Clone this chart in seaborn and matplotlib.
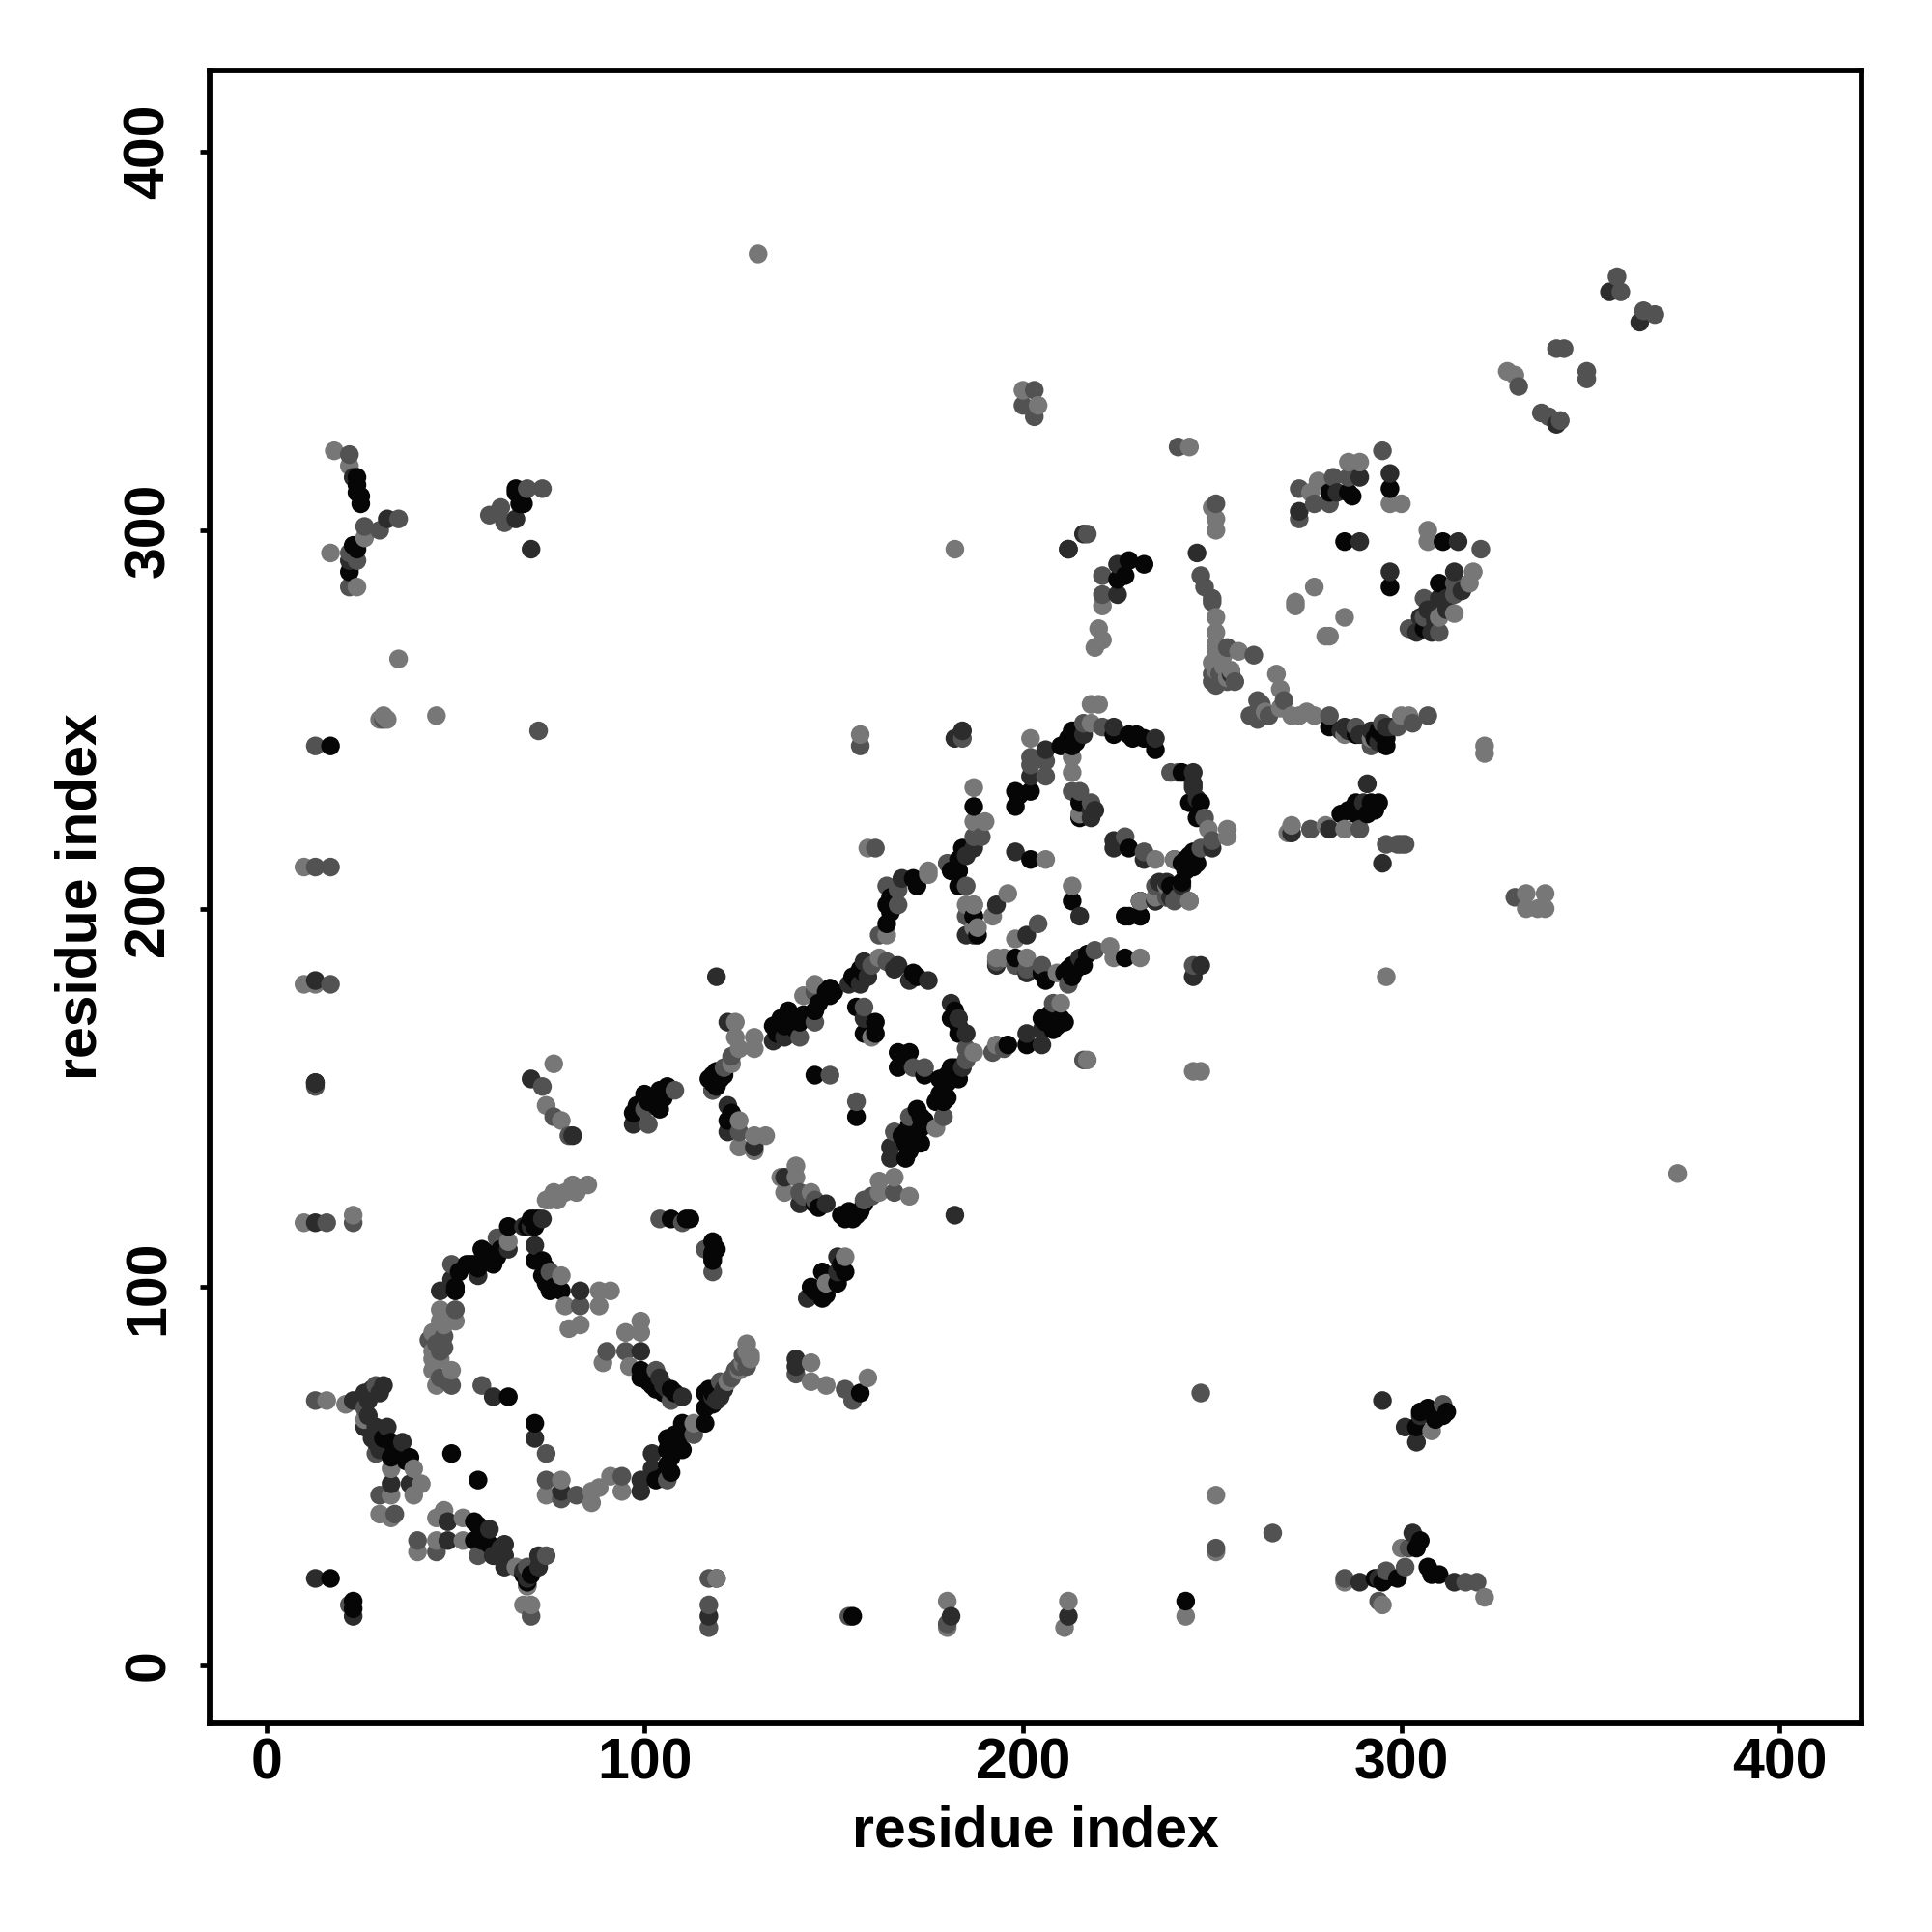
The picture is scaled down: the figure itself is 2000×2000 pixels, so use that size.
"""Contact map: residue index vs residue index, dots shaded by four grey levels."""
import pandas as pd
import matplotlib
matplotlib.use('Agg')
import matplotlib.pyplot as plt
import seaborn as sns

# (residue i, residue j), one list per grey level
black_pairs = [
    (17,23),(23,17),(23,15),(17,243),(50,99),(53,106),(56,105),(57,110),(60,106),(64,116),(70,118),
    (71,107),(73,107),(73,103),(75,99),(78,99),(99,78),(99,76),(102,74),(107,73),(116,72),(118,72),(116,68),
    (33,59),(33,55),(38,55),(49,56),(56,49),(55,38),(55,33),(59,32),(69,23),(64,71),(71,64),
    (103,49),(106,53),(106,57),(110,57),(106,60),(109,60),(110,64),(116,64),
    (107,118),(111,118),(118,112),(118,107),(119,157),(121,156),(117,155),(119,153),(122,144),
    (145,122),(152,119),(155,118),(157,120),(158,122),(134,169),(137,169),(138,173),(141,170),(145,173),
    (149,179),(149,177),(155,182),(157,184),(171,183),(156,174),(161,170),(158,167),(161,167),(183,167),(181,171),
    (145,156),(156,145),(167,162),(170,162),(167,158),(174,156),(182,158),(180,156),(179,153),(181,156),
    (179,149),(177,149),(173,145),(173,142),(173,138),(169,141),(169,138),(169,134),
    (153,104),(147,104),(151,101),(144,100),(147,97),(157,72),(171,208),(164,201),(164,196),(183,210),(181,210),
    (183,206),(187,198),(188,193),(213,202),(198,187),(205,183),(211,183),(213,182),(213,185),(216,185),
    (227,198),(231,198),(231,202),(242,207),(227,187),(205,171),(210,171),(208,168),(201,164),(196,164),
    (187,227),(184,216),(183,213),(183,210),(187,198),(198,231),(198,227),(202,231),(210,243),(212,245),(213,243),
    (224,246),(228,246),(232,245),(235,242),(215,228),(215,224),(242,236),(247,228),(244,228),(246,224),
    (244,214),(246,212),(242,212),(243,210),(228,216),(202,213),(239,206),(231,202),(228,198),(231,198),
    (284,225),(288,228),(288,225),(291,225),(294,228),(281,248),(288,246),(293,245),(295,246),
    (281,310),(286,310),(297,311),(285,297),(311,297),(297,285),(310,286),(306,274),
    (24,314),(24,310),(25,307),(23,296),(24,296),(22,289),(68,307),(66,311),(13,154),(212,295),
    (225,287),(228,292),(232,291),(227,288),(296,23),(295,22),(304,31),(308,24),(310,24),(307,26),
    (243,17),(155,13),(304,63),(307,68),(311,66),(97,146),(100,151),(104,152),(104,147),(102,150),
    (71,116),(243,212),(118,109),
    # denser runs along the strands
    (24,295),(25,309),(24,312),(66,310),(67,307),(71,118),(72,118),(69,116),(50,100),(51,104),(54,106),(55,106),
    (58,108),(59,109),(61,108),(62,110),(74,105),(74,101),(76,100),(100,77),(101,75),(103,73),(105,72),(108,72),
    (117,70),(118,69),(117,73),(31,60),(34,57),(36,56),(37,54),(58,34),(57,33),(56,37),(68,24),(70,24),(69,22),
    (105,50),(107,51),(107,55),(108,58),(111,62),(108,61),(112,118),(119,110),(118,108),(120,155),(118,156),(118,154),
    (123,146),(146,121),(153,118),(154,120),(156,119),(135,167),(136,171),(139,171),(140,168),(142,172),(144,171),
    (146,175),(148,178),(150,178),(156,181),(158,183),(172,182),(183,169),(182,173),(168,160),(169,160),(181,158),
    (183,155),(178,155),(180,154),(178,151),(180,150),(172,147),(174,144),(172,140),(170,143),(168,140),(170,136),
    (152,106),(145,99),(148,98),(172,206),(165,199),(165,203),(206,181),(212,184),(214,184),(217,188),(206,170),
    (207,172),(209,169),(211,170),(199,230),(214,244),(213,247),(229,245),(230,246),(243,213),(245,211),(245,215),
    (286,226),(290,226),(292,228),(293,226),(294,247),(296,245),(296,243),(287,309),(299,23),(293,23),(305,33),
    (305,67),(309,65),(312,67),(98,148),(101,149),(103,148),(105,150),(106,153),
]
dark_pairs = [
    (13,117),(13,23),(23,13),(46,99),(49,102),(56,103),(64,110),(71,111),(83,99),(99,83),(104,76),(110,71),(119,70),
    (70,116),(73,118),(68,116),(23,70),(26,72),(26,63),(29,63),(32,63),(29,59),(36,59),(33,48),(38,48),
    (48,38),(59,36),(48,33),(60,29),(63,32),(63,29),(63,26),(69,23),(72,26),(72,29),(68,25),
    (117,13),(60,71),(71,60),(78,46),(99,49),(99,46),(102,56),(102,52),(119,182),(122,170),(118,152),
    (122,148),(122,141),(129,137),(137,129),(141,122),(148,122),(182,119),(134,165),(137,166),(154,180),(159,182),
    (167,185),(170,181),(175,181),(158,171),(181,175),(183,171),(185,167),(184,158),(165,137),(165,134),
    (140,81),(140,79),(151,108),(151,104),(143,97),(168,208),(185,193),(193,201),(215,198),(201,193),
    (236,207),(235,202),(193,185),(215,187),(205,168),(201,167),(205,164),(247,185),(245,182),(182,245),(184,247),
    (187,216),(185,214),(187,193),(206,242),(202,235),(216,246),(224,248),(235,245),(218,224),(245,236),
    (245,232),(250,216),(224,218),(224,216),(232,213),(242,206),(235,202),(198,215),(295,212),(291,233),(290,228),
    (271,220),(281,221),(285,248),(295,244),(297,248),(255,262),(273,305),(283,310),(289,314),(297,315),(289,297),
    (315,297),(297,289),(314,289),(310,282),(304,273),(308,273),(23,314),(22,292),(32,303),(66,303),(70,295),
    (13,154),(13,181),(216,299),(225,283),(225,291),(212,295),(289,22),(294,23),(303,35),(314,22),
    (212,13),(181,13),(295,70),(301,63),(304,59),(305,66),(70,155),(81,140),(97,143),(119,23),(246,294),
    (355,363),(363,355),(341,328),(240,213),
    (62,31),(30,60),(30,57),(28,60),(27,66),(27,70),(28,73),(30,72),(31,74),(118,71),(106,73),(105,74),(120,71),
    (121,73),(155,181),(157,180),(158,186),(166,184),(201,183),(238,207),(239,203),(245,233),(246,229),(218,226),
    (219,226),(284,247),(286,247),(289,246),(292,247),(296,248),(294,244),(305,277),(307,279),(309,276),(312,279),
    (312,282),(316,284),
]
mid_pairs = [
    (16,117),(23,117),(22,16),(70,13),(117,23),(117,16),(117,10),(49,106),(61,113),(75,104),(83,95),(90,83),(95,83),
    (103,78),(107,70),(123,76),(124,78),(126,82),(50,94),(43,86),(47,87),(46,83),(49,74),(13,70),(29,74),
    (26,68),(29,56),(30,45),(34,40),(40,33),(45,30),(56,29),(69,26),(74,29),(74,56),(74,49),(78,44),(82,45),
    (94,50),(106,49),(113,61),(104,118),(110,117),(116,110),(118,104),(123,161),(121,158),(118,152),
    (125,141),(141,125),(158,123),(160,124),(166,125),(141,166),(145,170),(145,178),(160,185),(164,186),
    (158,174),(149,156),(156,149),(171,158),(174,158),(185,163),(185,160),(179,145),(170,145),(166,141),
    (140,77),(153,73),(155,70),(164,206),(167,205),(167,201),(162,193),(185,206),(185,198),(204,196),
    (240,202),(238,203),(193,186),(198,185),(201,184),(205,185),(212,180),(219,189),(208,175),(192,162),(195,163),
    (216,160),(245,185),(184,245),(189,219),(187,219),(180,212),(202,240),(202,238),(206,239),(206,235),
    (216,249),(221,248),(213,231),(215,231),(218,228),(241,236),(248,224),(250,218),(247,216),(227,219),(232,215),
    (235,206),(238,203),(241,203),(296,217),(300,217),(301,217),(299,217),(276,221),(289,221),(262,255),(262,252),
    (269,255),(281,251),(288,248),(299,248),(303,249),(307,251),(252,262),(250,262),(251,307),(250,282),(254,269),(261,267),
    (330,203),(273,311),(273,303),(277,307),(282,314),(281,307),(286,314),(295,321),(321,295),(314,286),(314,283),
    (306,282),(306,277),(302,274),(310,273),(247,288),(248,285),(250,281),
    (357,367),(358,363),(364,358),(367,357),(341,348),(343,348),(349,342),(349,340),(331,338),(337,331),(339,330),(342,329),
    (203,337),(200,333),(203,330),(241,322),(22,320),(26,301),(30,300),(35,303),(59,304),(62,306),(63,302),(69,311),
    (72,247),(31,250),(13,243),(13,211),(17,211),(17,180),(221,288),(221,283),(217,299),(285,23),(294,17),(296,25),
    (302,31),(301,26),(317,22),(320,22),(266,35),(251,31),(180,11),(154,13),(311,69),(73,153),(76,145),(80,140),(100,147),
    (108,152),(101,143),(142,124),(145,123),(57,74),(73,311),(247,72),(239,236),(157,243),(161,216),
    (262,250),(260,251),(263,254),(265,251),(250,260),(252,260),(254,260),(256,260),(251,259),(45,85),(47,84),
    (46,76),(48,75),(13,153),(22,294),(24,292),(22,285),(120,75),(125,79),(127,79),(292,243),(295,249),
]
light_pairs = [
    (10,117),(23,119),(70,16),(68,16),(69,21),(119,23),(64,112),(78,103),(79,95),(88,99),(91,99),(88,95),(80,89),
    (83,90),(99,91),(95,88),(99,88),(89,80),(96,79),(75,123),(76,125),(79,125),(81,127),(85,127),(77,123),(82,125),(74,123),
    (125,78),(126,80),(128,81),(127,85),(122,75),(46,94),(50,91),(46,91),(44,88),(44,83),(44,78),(49,78),(45,74),(46,81),
    (16,70),(21,69),(26,65),(33,52),(39,52),(41,48),(33,45),(39,45),(30,40),(33,39),(45,39),(47,41),(52,39),(40,30),
    (45,33),(52,33),(66,26),(69,21),(78,49),(74,45),(86,43),(86,46),(88,47),(91,50),(94,46),(113,64),
    (124,170),(124,166),(129,166),(125,163),(129,163),(123,159),(125,144),(129,140),(132,140),(125,137),(129,136),
    (140,132),(140,129),(137,125),(144,125),(162,128),(162,125),(166,129),(170,124),(142,177),(145,180),(162,187),
    (160,166),(187,162),(177,142),(153,108),(148,101),(144,80),(144,75),(148,74),(159,76),(175,209),(164,193),
    (187,201),(185,201),(188,195),(192,198),(196,204),(213,206),(198,192),(244,202),(238,206),(193,187),(195,187),(201,187),
    (209,183),(223,190),(224,187),(231,187),(210,175),(193,164),(217,160),(245,157),(247,157),
    (187,232),(187,223),(190,223),(175,210),(187,201),(187,195),(202,245),(213,240),(218,249),(218,254),(220,254),
    (213,236),(215,225),(249,221),(254,221),(254,219),(240,213),(235,213),(235,203),(244,202),(231,202),(206,213),
    (296,182),(270,220),(271,222),(280,222),(285,221),(264,252),(267,262),(268,258),(268,253),(271,251),(273,251),(277,251),
    (285,246),(292,245),(300,251),(302,251),(322,243),(322,241),(251,303),(251,300),(251,277),(251,273),(251,270),(257,268),(253,267),
    (251,263),(254,261),(251,268),(276,310),(278,313),(286,318),(289,318),(297,307),(300,307),(307,300),(307,297),
    (277,285),(272,281),(272,280),(285,277),(281,272),(280,272),(319,289),(318,286),(314,278),(310,277),
    (333,204),(338,204),(333,200),(338,200),(336,200),(130,373),(328,342),(330,341),(200,337),(204,333),(244,322),
    (18,321),(22,317),(24,285),(17,294),(26,298),(35,266),(45,251),(10,211),(10,180),(13,180),(182,295),(221,280),(220,274),
    (221,271),(219,269),(285,22),(295,16),(300,31),(322,18),(251,45),(251,30),(243,13),(212,17),(211,10),(180,17),(180,10),
    (308,62),(373,130),(76,159),(74,148),(78,144),(136,129),(157,246),(159,216),(250,306),
    (30,250),(32,250),(31,251),(250,265),(252,266),(253,264),(255,263),(275,252),(47,90),(44,81),(128,82),(127,83),
]

sns.set_style("white")
plt.rcParams['font.family'] = ['Liberation Sans', 'DejaVu Sans']

GREYS = {'black': '#060606', 'dark': '#2c2c2c', 'mid': '#525252', 'light': '#777777'}


def load_data():
    frames = []
    for shade, pairs in [('black', black_pairs), ('dark', dark_pairs),
                         ('mid', mid_pairs), ('light', light_pairs)]:
        part = pd.DataFrame(pairs, columns=['i', 'j'])
        part['shade'] = shade
        frames.append(part)
    df = pd.concat(frames, ignore_index=True)
    # the overlaps look like plain residue order, not shade order
    return df.sort_values(['i', 'j'], kind='stable').reset_index(drop=True)


df = load_data()

fig = plt.figure(figsize=(20, 20), dpi=100)
ax = fig.add_axes([216.5 / 2000, 1 - 1783.6 / 2000, 1710.5 / 2000, 1711 / 2000])

sns.scatterplot(data=df, x='i', y='j', hue='shade', palette=GREYS, s=195,
                linewidth=0, alpha=1, legend=False, ax=ax)

ax.set_xlim(-15.07, 421.6)
ax.set_ylim(-15.2, 421.6)
ax.set_xticks([0, 100, 200, 300, 400])
ax.set_yticks([0, 100, 200, 300, 400])
ax.tick_params(axis='both', length=7.5, width=3.4, color='black', direction='out',
               labelsize=42.5, left=True, bottom=True)
ax.tick_params(axis='x', pad=3)
ax.tick_params(axis='y', pad=17.5)
for lab in ax.get_xticklabels() + ax.get_yticklabels():
    lab.set_fontweight('bold')
    lab.set_color('black')
for lab in ax.get_yticklabels():
    lab.set_rotation(90)
    lab.set_va('center')
for side in ax.spines.values():
    side.set_linewidth(4.2)
    side.set_color('black')

ax.set_xlabel('residue index', fontsize=42.5, fontweight='bold', color='black', labelpad=11)
ax.set_ylabel('residue index', fontsize=42.5, fontweight='bold', color='black', labelpad=11)

plt.savefig('out.png', dpi=100)
plt.close()
